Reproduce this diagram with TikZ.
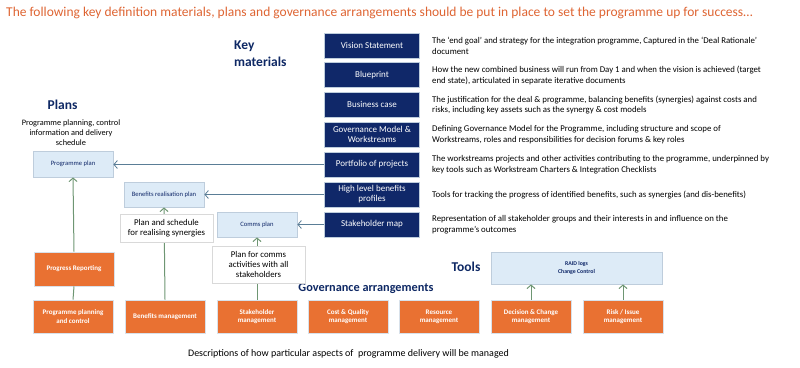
\documentclass[tikz,border=0pt]{standalone}
\usepackage{fontspec}
\setmainfont{Carlito}
\usetikzlibrary{arrows.meta}
\definecolor{navy}{RGB}{16,40,105}
\definecolor{headnavy}{RGB}{14,40,100}
\definecolor{orng}{RGB}{233,113,50}
\definecolor{titleorange}{RGB}{222,100,50}
\definecolor{lblue}{RGB}{221,235,247}
\definecolor{lborder}{RGB}{190,205,220}
\definecolor{greenln}{RGB}{110,150,115}
\definecolor{blueln}{RGB}{90,125,150}
\begin{document}
\begin{tikzpicture}[x=1pt,y=-1pt,
 keybox/.style={draw=lborder, line width=0.6pt, fill=navy, text=white, minimum width=95pt, minimum height=25pt, inner sep=0pt, align=center, font=\fontsize{9}{10}\selectfont},
 desc/.style={anchor=west, align=left, inner sep=0pt, font=\fontsize{8.8}{10.8}\selectfont},
 govbox/.style={draw=lborder!60, line width=0.6pt, fill=orng, text=white, minimum width=80pt, minimum height=33pt, inner sep=0pt, align=center, font=\bfseries\fontsize{7}{8.3}\selectfont},
 planbox/.style={draw=lborder, line width=0.8pt, fill=lblue, text=navy, minimum width=80pt, minimum height=25pt, inner sep=0pt, align=center, font=\fontsize{6.6}{7.5}\selectfont},
 notebox/.style={draw=black!15, line width=0.6pt, fill=white, inner sep=0pt, align=center, font=\fontsize{8.8}{10.2}\selectfont},
 heading/.style={text=headnavy, font=\bfseries\fontsize{13.5}{17}\selectfont, inner sep=0pt, align=left},
 bluearrow/.style={draw=blueln, line width=0.8pt, -{Straight Barb[length=3.5pt,width=8pt]}},
 greenarrow/.style={draw=greenln, line width=1pt, -{Straight Barb[length=3.5pt,width=8pt]}},
 glink/.style={draw=greenln, line width=1pt}
]
\useasboundingbox (0,0) rectangle (800,367);

% title
\node[anchor=west, inner sep=0pt, text=titleorange, font=\fontsize{13.5}{15}\selectfont] (title) at (6,13)
 {The following key definition materials, plans and governance arrangements should be put in place to set the programme up for success…};

% key materials
\node[heading, anchor=west] (keyhead) at (234,54) {Key\\materials};
\node[keybox] (kvis) at (372,45.5) {Vision Statement};
\node[keybox] (kblue) at (372,75) {Blueprint};
\node[keybox] (kbus) at (372,104.5) {Business case};
\node[keybox] (kgov) at (372,134.5) {Governance Model \&\\Workstreams};
\node[keybox] (kport) at (372,164.5) {Portfolio of projects};
\node[keybox] (khigh) at (372,194.5) {High level benefits\\profiles};
\node[keybox] (kstake) at (372,224.5) {Stakeholder map};

\node[desc] (dvis) at (432,46) {The ‘end goal’ and strategy for the integration programme, Captured in the ‘Deal Rationale’\\document};
\node[desc] (dblue) at (432,75.5) {How the new combined business will run from Day 1 and when the vision is achieved (target\\end state), articulated in separate iterative documents};
\node[desc] (dbus) at (432,105) {The justification for the deal \& programme, balancing benefits (synergies) against costs and\\risks, including key assets such as the synergy \& cost models};
\node[desc] (dgov) at (432,135) {Defining Governance Model for the Programme, including structure and scope of\\Workstreams, roles and responsibilities for decision forums \& key roles};
\node[desc] (dport) at (432,165) {The workstreams projects and other activities contributing to the programme, underpinned by\\key tools such as Workstream Charters \& Integration Checklists};
\node[desc] (dhigh) at (432,195) {Tools for tracking the progress of identified benefits, such as synergies (and dis-benefits)};
\node[desc] (dstake) at (432,225) {Representation of all stakeholder groups and their interests in and influence on the\\programme’s outcomes};

% plans
\node[heading] (planshead) at (62.5,105) {Plans};
\node[inner sep=0pt, align=center, font=\fontsize{8.3}{10}\selectfont] (plansub) at (71,133) {Programme planning, control\\information and delivery\\schedule};
\node[planbox, minimum height=26pt] (pplan) at (73,164) {Programme plan};
\node[planbox] (brp) at (164,194.5) {Benefits realisation plan};
\node[planbox] (comms) at (257,224.5) {Comms plan};

% governance
\node[govbox, minimum height=34pt] (progrep) at (74,269) {Progress Reporting};
\node[govbox] (ppc) at (73,316.5) {Programme planning\\and control};
\node[govbox] (benm) at (165,316.5) {Benefits management};
\node[govbox] (stm) at (257,316.5) {Stakeholder\\management};
\node[govbox] (cqm) at (348,316.5) {Cost \& Quality\\management};
\node[govbox] (resm) at (439,316.5) {Resource\\management};
\node[govbox] (dcm) at (531,316.5) {Decision \& Change\\management};
\node[govbox] (rim) at (623,316.5) {Risk / Issue\\management};
\node[heading, font=\bfseries\fontsize{12.3}{15}\selectfont] (govhead) at (366,289) {Governance arrangements};

% tools
\node[heading] (toolshead) at (466,267) {Tools};
\node[planbox, minimum width=171pt, minimum height=32pt, font=\bfseries\fontsize{5.8}{8}\selectfont] (tools) at (576.5,268) {RAID logs\\Change Control};

% connectors
\draw[bluearrow] (kport.west) -- (kport.west -| pplan.east);
\draw[bluearrow] (khigh.west) -- (khigh.west -| brp.east);
\draw[bluearrow] (kstake.west) -- (kstake.west -| comms.east);
\draw[greenarrow] (progrep.north) -- (pplan.south);
\draw[glink] (ppc.north) -- (progrep.south);
\draw[greenarrow] (benm.north) -- (brp.south);
\draw[greenarrow] (stm.north) -- (comms.south);
\draw[greenarrow] (dcm.north) -- (dcm.north |- tools.south);
\draw[greenarrow] (rim.north) -- (rim.north |- tools.south);

% notes
\node[notebox, minimum width=93pt, minimum height=28pt] (note1) at (166.5,228) {Plan and schedule\\for realising synergies};
\node[notebox, minimum width=93pt, minimum height=37pt] (note2) at (258.5,264.5) {Plan for comms\\activities with all\\stakeholders};

% footer
\node[inner sep=0pt, font=\fontsize{10}{12}\selectfont] (foot) at (348.5,354) {Descriptions of how particular aspects of \ programme delivery will be managed};
\end{tikzpicture}
\end{document}
